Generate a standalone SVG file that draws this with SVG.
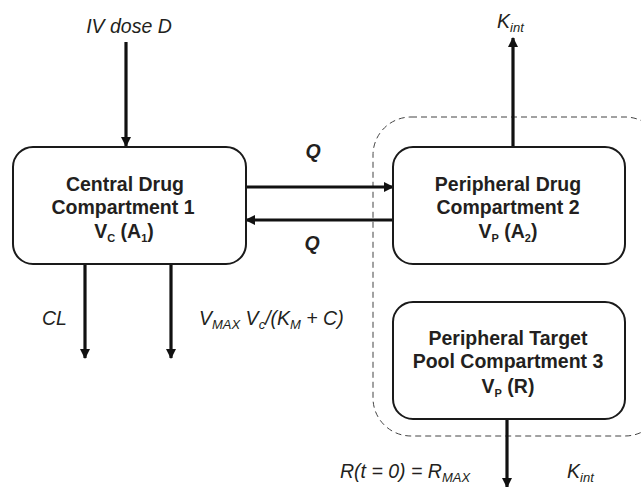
<svg xmlns="http://www.w3.org/2000/svg" width="641" height="487" viewBox="0 0 641 487">
<style>
.box{fill:#fff;stroke:#1a1a1a;stroke-width:2}
.t{font-family:"Liberation Sans",Arial,sans-serif;font-size:19.5px;font-weight:bold;fill:#231f20;text-anchor:middle}
.i{font-family:"Liberation Sans",Arial,sans-serif;font-size:19.5px;font-style:italic;fill:#231f20}
.c line{stroke:#111;stroke-width:3.2}
</style>
<defs>
<marker id="ah" viewBox="0 0 10 10" refX="9" refY="5" markerWidth="3.2" markerHeight="3.2" orient="auto" markerUnits="strokeWidth">
<path d="M0,0 L10,5 L0,10 Z" fill="#111"/>
</marker>
</defs>
<rect x="0" y="0" width="641" height="487" fill="#fff"/>
<rect id="boundary" x="373" y="117" width="290" height="319" rx="38" fill="none" stroke="#444" stroke-width="1" stroke-dasharray="6,4"/>
<g class="c" id="connectors">
<line x1="126" y1="42" x2="126" y2="146" marker-end="url(#ah)"/>
<line x1="513" y1="147" x2="513" y2="38" marker-end="url(#ah)"/>
<line x1="246" y1="187" x2="393" y2="187" marker-end="url(#ah)"/>
<line x1="393" y1="220" x2="246" y2="220" marker-end="url(#ah)"/>
<line x1="85" y1="264" x2="85" y2="358" marker-end="url(#ah)"/>
<line x1="171" y1="264" x2="171" y2="358" marker-end="url(#ah)"/>
<line x1="507" y1="419" x2="507" y2="487" marker-end="url(#ah)"/>
</g>
<g id="central">
<rect class="box" x="13" y="147" width="233" height="117" rx="20"/>
<text class="t" x="125" y="191">Central Drug</text>
<text class="t" x="123" y="214">Compartment 1</text>
<text class="t" x="124" y="238">V<tspan font-size="11" dy="4">C</tspan><tspan dy="-4"> (A</tspan><tspan font-size="11" dy="4">1</tspan><tspan dy="-4">)</tspan></text>
</g>
<g id="peripheral-drug">
<rect class="box" x="393" y="147" width="232" height="117" rx="20"/>
<text class="t" x="508" y="191">Peripheral Drug</text>
<text class="t" x="508" y="214">Compartment 2</text>
<text class="t" x="508" y="238">V<tspan font-size="11" dy="4">P</tspan><tspan dy="-4"> (A</tspan><tspan font-size="11" dy="4">2</tspan><tspan dy="-4">)</tspan></text>
</g>
<g id="peripheral-target">
<rect class="box" x="393" y="302" width="232" height="117" rx="20"/>
<text class="t" x="508" y="345">Peripheral Target</text>
<text class="t" x="508" y="368">Pool Compartment 3</text>
<text class="t" x="508" y="393">V<tspan font-size="11" dy="4">P</tspan><tspan dy="-4"> (R)</tspan></text>
</g>
<g id="labels">
<text class="i" x="129" y="33" text-anchor="middle">IV dose D</text>
<text class="i" x="497" y="28">K<tspan font-size="13" dy="4">int</tspan></text>
<text class="t" x="313" y="158" font-style="italic">Q</text>
<text class="t" x="312" y="250" font-style="italic">Q</text>
<text class="i" x="42" y="325">CL</text>
<text class="i" x="199" y="325">V<tspan font-size="13" dy="4">MAX</tspan><tspan dy="-4"> V</tspan><tspan font-size="13" dy="4">c</tspan><tspan dy="-4">/(K</tspan><tspan font-size="13" dy="4">M</tspan><tspan dy="-4"> + C)</tspan></text>
<text class="i" x="340" y="478">R(t = 0) = R<tspan font-size="13" dy="4">MAX</tspan></text>
<text class="i" x="567" y="478">K<tspan font-size="13" dy="4">int</tspan></text>
</g>
</svg>
